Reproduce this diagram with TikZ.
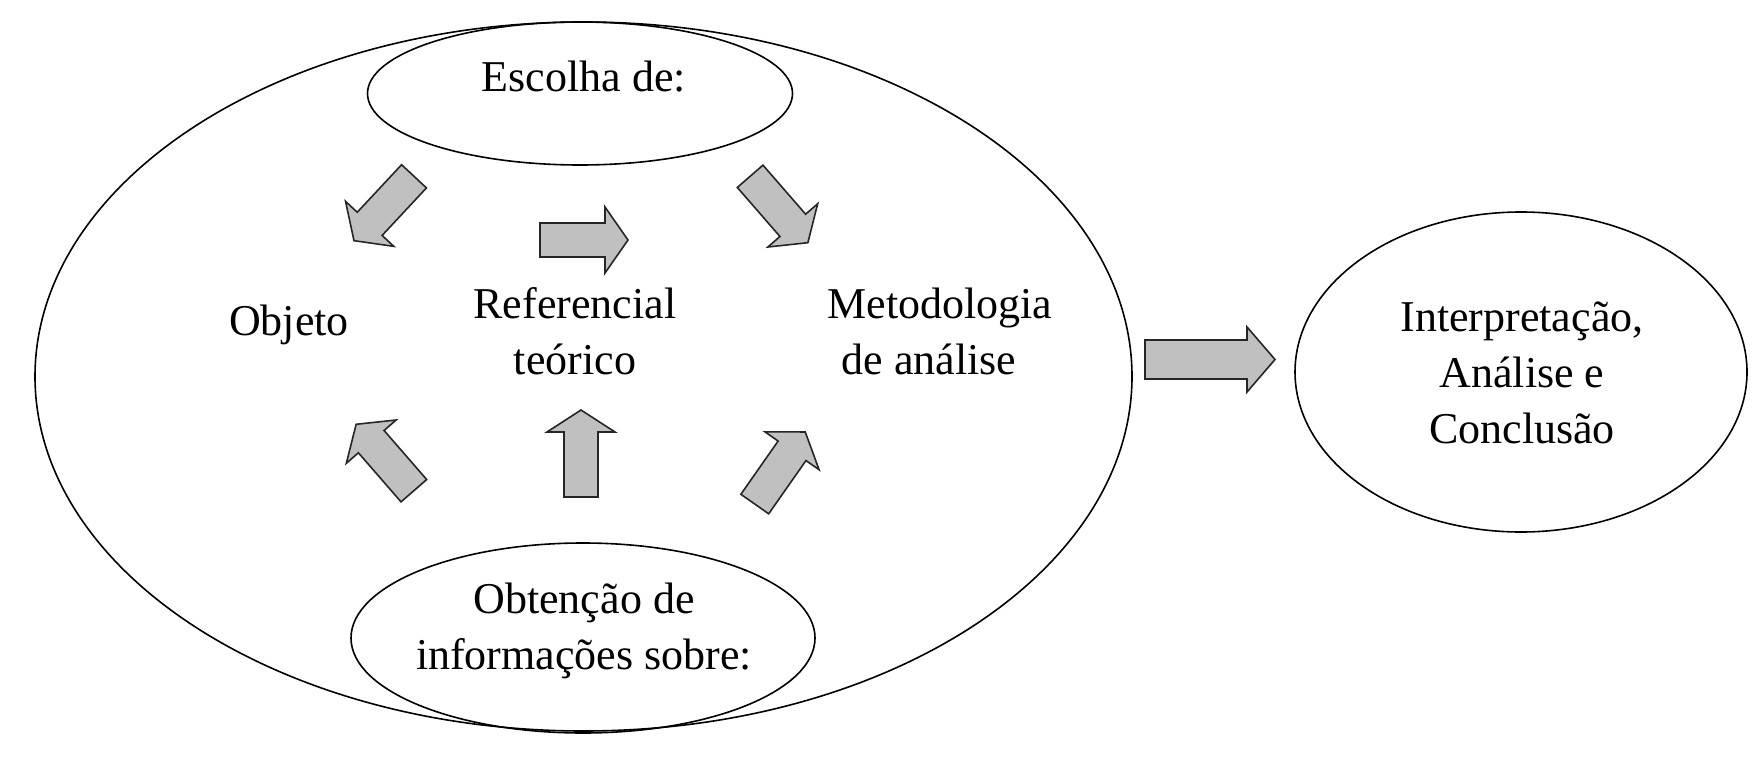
\documentclass[tikz,border=0pt]{standalone}
\usepackage{fontspec}
\setmainfont{Liberation Serif}
\usetikzlibrary{shapes.geometric}
\definecolor{arrowgray}{RGB}{192,192,192}
\newcommand{\blockarrow}[7]{%
  \draw[blk, shift={(#1,#2)}, rotate=#3]
    ({-#4/2},{-#5}) -- ({#4/2-#7},{-#5}) -- ({#4/2-#7},{-#6}) -- ({#4/2},0)
    -- ({#4/2-#7},{#6}) -- ({#4/2-#7},{#5}) -- ({-#4/2},{#5}) -- cycle;}
\begin{document}
\begin{tikzpicture}[x=1pt,y=-1pt,
  oval/.style={draw=black, line width=1.6pt, ellipse, inner sep=0pt},
  lbl/.style={font=\fontsize{44}{56}\selectfont, align=center, inner sep=0pt},
  blk/.style={draw=black!85, line width=1.6pt, fill=arrowgray, line join=miter}]
\useasboundingbox (0,0) rectangle (1760,770);
\fill[white] (0,0) rectangle (1760,770);
% ellipses
\node[oval, minimum width=1097pt, minimum height=709pt] (outer) at (583.5,376.5) {};
\node[oval, minimum width=425pt, minimum height=143pt] (top) at (580,93.5) {};
\node[oval, minimum width=464pt, minimum height=190pt] (bottom) at (583,638) {};
\node[oval, minimum width=452pt, minimum height=320pt] (right) at (1521,372) {};
% labels
\node[lbl] (esc) at (584,77) {Escolha de:};
\node[lbl] (obj) at (289,325) {Objeto};
\node[lbl] (ref) at (575,331) {Referencial\\teórico};
\node[lbl, align=left] (met) at (940,331) {Metodologia\\\hspace*{14pt}de análise};
\node[lbl] (obt) at (584,631) {Obtenção de\\informações sobre:};
\node[lbl] (int) at (1522,373) {Interpretação,\\Análise e\\Conclusão};
% small block arrows
\blockarrow{384}{208.5}{-133}{88}{17}{33}{23}
\blockarrow{584}{240}{0}{88}{17}{33}{23}
\blockarrow{779}{209.5}{-49}{88}{17}{33}{23}
\blockarrow{385}{457.5}{131}{88}{17}{33}{23}
\blockarrow{581}{453.5}{90}{87}{17}{34}{22}
\blockarrow{780}{468}{55}{88}{17}{33}{23}
% big block arrow
\blockarrow{1210}{359.5}{0}{130}{19.5}{32.5}{28}
\end{tikzpicture}
\end{document}
